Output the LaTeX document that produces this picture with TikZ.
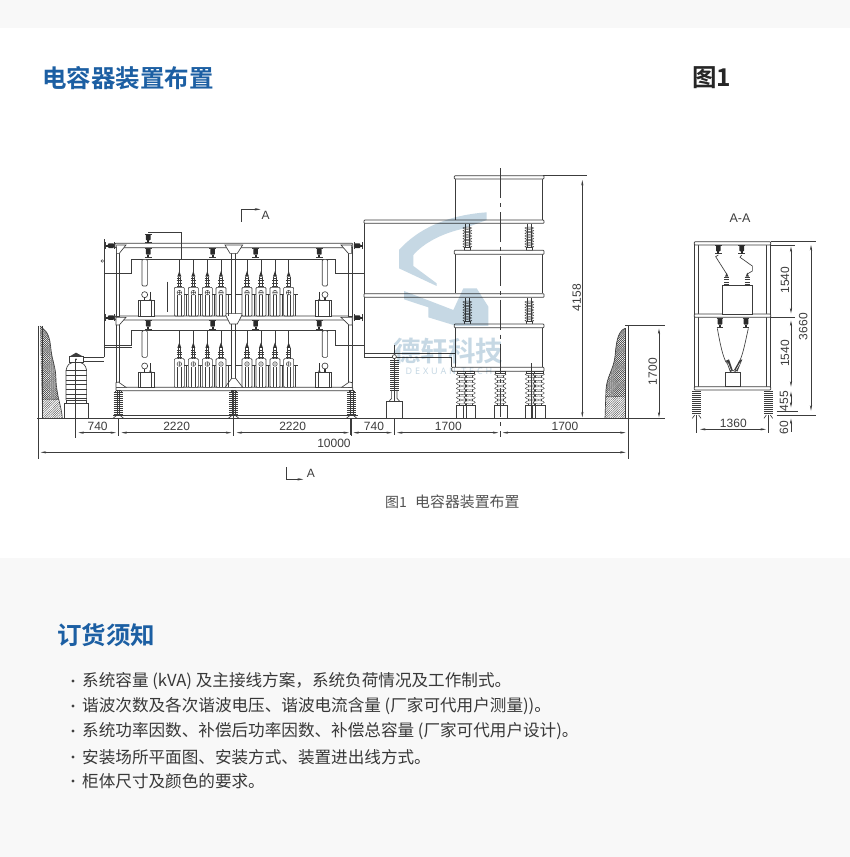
\documentclass[tikz,border=0pt]{standalone}
\usepackage{fontspec}
\setmainfont{Liberation Sans}
\newfontfamily\cjk{Noto Sans CJK SC}[BoldFont={Noto Sans CJK SC Bold}]
\newfontfamily\wmfont[LetterSpace=32]{Noto Sans}
\usetikzlibrary{arrows.meta,patterns.meta}
\definecolor{pagegray}{HTML}{F8F8F8}
\definecolor{titleblue}{HTML}{1C5FA3}
\definecolor{inkc}{HTML}{3C3C3C}
\definecolor{wmblue}{HTML}{C6D8E4}
\tikzset{
 ln/.style={draw=inkc,line width=.65bp},
 thin ln/.style={draw=inkc,line width=.4bp},
 dimn/.style={draw=inkc,line width=.5bp,{Stealth[length=5.5bp,width=2.2bp]}-{Stealth[length=5.5bp,width=2.2bp]}},
 ext/.style={draw=inkc,line width=.5bp},
 beam/.style={draw=inkc,line width=.7bp,fill=white,rounded corners=.8bp},
 dimtext/.style={font=\fontsize{12bp}{13bp}\selectfont,text=inkc,inner sep=0pt},
 listtext/.style={font=\cjk\fontsize{16.6bp}{18bp}\selectfont,text=black!78,inner sep=0pt,anchor=west},
 headtext/.style={font=\cjk\bfseries\fontsize{24.5bp}{26bp}\selectfont,inner sep=0pt,anchor=west},
 zA/.style={shift={(30,200)},x=.33333bp,y=-.33333bp},
 zB/.style={shift={(350,160)},x=.33333bp,y=-.33333bp},
 zC/.style={shift={(680,200)},x=.33333bp,y=-.33333bp},
 zD/.style={shift={(385,200)},x=.33333bp,y=-.33333bp},
 capunit/.pic={
  \draw[ln,fill=white,rounded corners=1bp] (-15,0) -- (-15,-86) -- (15,-86) -- (15,0) -- cycle;
  \draw[thin ln] (-5,-62)--(-5,0) (5,-62)--(5,0);
  \draw[thin ln] (15,-65)--(27,-65) (21,-65)--(21,0);
  \draw[thin ln] (0,-70) circle (7) (-7,-70)--(7,-70) (0,-77)--(0,-63);
  \draw[ln] (-8,-90)--(8,-90) (-8,-98)--(8,-98) (-8,-106)--(8,-106) (-6,-112)--(6,-112);
  \draw[thin ln] (-4,-86)--(-4,-118) (4,-86)--(4,-118);
  \fill[inkc!85!black] (0,-135)--(-6,-118)--(6,-118)--cycle;
  \draw[thin ln] (0,-130)--(0,-170);
 },
 postblack/.pic={
  \draw[ln] (-10,13)--(10,13) (-10,-13)--(10,-13);
  \fill[inkc!70!black,rounded corners=.8bp] (-7,-12) rectangle (7,6);
  \fill[inkc!70!black] (-3,6) rectangle (3,13);
 },
 ribdark/.pic={
  \foreach \yy in {0,6,...,66}{\draw[draw=inkc,line width=.7bp] (-14,-\yy-6)--(14,-\yy-6);}
  \draw[thin ln] (-4,-78)--(-4,0) (4,-78)--(4,0);
  \draw[ln] (-8,-78)--(8,-78);
 },
 ribwhite/.pic={
  \draw[thin ln] (-9,-100)--(-9,0) (9,-100)--(9,0);
  \foreach \yy in {8,22,...,92}{\draw[thin ln,fill=white] (0,-\yy) ellipse (17 and 5);}
  \draw[thin ln,fill=white] (-14,-100) rectangle (14,-94);
 },
 ribtop/.pic={
  \foreach \yy in {5,13,...,61}{\draw[line width=.45bp,draw=inkc,fill=white] (0,-\yy-5) ellipse (13 and 3);}
  \draw[thin ln] (-6,-78)--(-6,0) (6,-78)--(6,0);
  \draw[ln,fill=white] (-8,0) rectangle (8,-8);
 },
 reactor/.pic={
  \draw[ln,fill=white,rounded corners=1.2bp] (-8,-170) rectangle (8,-90);
  \draw[ln] (0,-64) circle (9);
  \draw[line width=1.4bp,draw=inkc!80!black] (0,-55)--(0,-46);
  \draw[line width=1.2bp,draw=inkc!80!black] (17,-72)--(17,-47);
  \fill[inkc] (13,-47)--(21,-47)--(17,-53)--cycle;
  \draw[ln,fill=white] (-19,-46) rectangle (28,0);
  \draw[thin ln] (-12,-46)--(-12,0) (21,-46)--(21,0);
 },
}
\begin{document}
\begin{tikzpicture}[x=1bp,y=-1bp]
\useasboundingbox (0,0) rectangle (850,857);
\fill[pagegray] (0,0) rectangle (850,857);
\fill[white] (0,28) rectangle (850,558);
%% headings
\node[headtext,text=titleblue] (title) at (42,78) {电容器装置布置};
\node[headtext,text=black!85] (figno) at (692,78) {图1};
\node[headtext,text=titleblue] (notice) at (57,635) {订货须知};
\node[font=\cjk\fontsize{14bp}{15bp}\selectfont,text=black!68,inner sep=0pt,anchor=west] (capno) at (385,502) {图1};
\node[font=\cjk\fontsize{14.9bp}{15bp}\selectfont,text=black!68,inner sep=0pt,anchor=west] (caption) at (415,502) {电容器装置布置};
\foreach \yy/\nm/\tx in {
 681/a/{系统容量 (kVA) 及主接线方案，系统负荷情况及工作制式。},
 706/b/{谐波次数及各次谐波电压、谐波电流含量 (厂家可代用户测量))。},
 731/c/{系统功率因数、补偿后功率因数、补偿总容量 (厂家可代用户设计)。},
 757/d/{安装场所平面图、安装方式、装置进出线方式。},
 781/e/{柜体尺寸及颜色的要求。}}{
 \fill[black!75] (73,\yy) circle (1.6);
 \node[listtext] (item\nm) at (82,\yy) {\tx};
}
%% ========= left part
\begin{scope}[zA]
 % wall
 \draw[ln] (25,378) -- (25,778);
 \begin{scope}
  \clip (30,378) -- (38,385) .. controls (55,395) and (60,420) .. (62,440) .. controls (65,480) and (78,500) .. (78,540) .. controls (80,590) and (95,620) .. (97,655) -- (37,655) -- cycle;
  \fill[pattern={Lines[angle=45,distance=1.5bp,line width=.35bp]},pattern color=inkc] (25,378) rectangle (100,600);
  \fill[pattern={Lines[angle=-45,distance=1.5bp,line width=.35bp]},pattern color=inkc] (25,378) rectangle (100,600);
  \fill[pattern={Lines[angle=45,distance=1.6bp,line width=.35bp]},pattern color=inkc] (25,600) rectangle (100,655);
 \end{scope}
 \draw[ln] (37,378)--(37,655);
 \draw[ln] (30,378) -- (38,385) .. controls (55,395) and (60,420) .. (62,440) .. controls (65,480) and (78,500) .. (78,540) .. controls (80,590) and (95,620) .. (97,655);
 % ground
 \draw[ln] (22,655) -- (1000,655);
 \draw[thin ln] (250,645) -- (985,645);
 % transformer
 \draw[ln,fill=white] (103,610) rectangle (175,655);
 \draw[ln,fill=white] (108,600) rectangle (170,610);
 \draw[ln,fill=white,rounded corners=2bp] (108,600) -- (108,505) -- (120,488) -- (158,488) -- (170,505) -- (170,600);
 \foreach \yy in {512,526,...,596}{\draw[ln] (108,\yy)--(170,\yy);}
 \draw[ln,fill=white] (118,488) rectangle (160,470);
 \fill[inkc] (138,458)--(118,470)--(160,470)--cycle;
 \fill[inkc] (138,478) circle (3);
 \draw[ln] (160,472)--(222,472) (160,485)--(222,485) (222,472)--(222,118);
 % frame
 \draw[beam] (255,130) rectangle (968,143);
 \draw[beam] (255,348) rectangle (968,360);
 \draw[beam] (258,562) rectangle (968,572);
 \draw[ln,fill=white] (258,143) rectangle (268,348);
 \draw[ln,fill=white] (258,360) rectangle (268,562);
 \draw[ln,fill=white] (955,143) rectangle (967,348);
 \draw[ln,fill=white] (955,360) rectangle (967,562);
 \draw[ln,fill=white] (605,143) rectangle (617,348);
 \draw[ln,fill=white] (605,360) rectangle (617,562);
 \draw[ln,fill=white] (260,135)--(288,135)--(268,160)--(260,160)--cycle;
 \draw[ln,fill=white] (933,135)--(965,135)--(965,160)--(955,160)--cycle;
 \draw[ln,fill=white] (258,352)--(288,352)--(268,375)--(258,375)--cycle;
 \draw[ln,fill=white] (933,352)--(967,352)--(967,375)--(957,375)--cycle;
 \draw[ln,fill=white] (585,135)--(638,135)--(622,160)--(600,160)--cycle;
 \draw[ln,fill=white] (585,341)--(638,341)--(622,372)--(600,372)--cycle;
 \draw[ln,fill=white] (585,562)--(638,562)--(617,535)--(605,535)--cycle;
 \draw[ln,fill=white] (258,562)--(288,562)--(265,546)--(258,548)--cycle;
 \draw[ln,fill=white] (935,562)--(967,562)--(967,548)--(958,546)--cycle;
 % buses
 \draw[ln] (222,220)--(305,220)--(305,178)--(915,178)--(915,220)--(1003,220);
 \draw[ln] (222,436)--(305,436)--(305,392)--(915,392)--(915,436)--(1003,436);
 \draw[ln] (222,443)--(305,443);
 \draw[thin ln] (217,183) circle (4);
 \draw[ln] (413,245)--(413,335);
 % top link
 \draw[ln] (355,97)--(455,97)--(455,178);
 \pic at (355,115) {postblack};
 % bus posts
 \foreach \xx in {355,548,677,868}{\pic at (\xx,158) {postblack}; \pic at (\xx,374) {postblack};}
 \foreach \yy in {137,353}{
  \pic[rotate=-90] at (240,\yy) {postblack};
  \pic[rotate=90] at (985,\yy) {postblack};
 }
 % capacitors
 \foreach \xx in {448,490,532,573,651,693,735,776}{
  \pic at (\xx,348) {capunit};
  \pic at (\xx,562) {capunit};
 }
 \draw[thin ln] (588,283)--(605,283) (617,283)--(636,283) (588,497)--(605,497) (617,497)--(636,497);
 % reactors
 \pic at (344,348) {reactor};
 \pic at (344,562) {reactor};
 \pic[xscale=-1] at (885,348) {reactor};
 \pic[xscale=-1] at (885,562) {reactor};
 % foot insulators
 \foreach \xx in {265,611,965}{
  \draw[ln] (\xx-8,572)--(\xx-8,578) (\xx+8,572)--(\xx+8,578);
  \pic at (\xx,648) {ribdark};
  \draw[ln] (\xx-16,655)--(\xx-6,647) (\xx+16,655)--(\xx+6,647);
 }
 % extensions and dimensions
 \draw[ext] (137,478)--(137,714);
 \draw[ext] (266,655)--(266,708);
 \draw[ext] (611,572)--(611,708);
 \draw[ext] (965,655)--(965,708);
 \draw[dimn] (145,698)--(258,698);
 \draw[dimn] (274,698)--(604,698);
 \draw[dimn] (620,698)--(957,698);
 \draw[dimn] (32,757)--(1787,757);
 \node[dimtext] (d740a) at (203,679) {740};
 \node[dimtext] (d2220a) at (440,679) {2220};
 \node[dimtext] (d2220b) at (788,679) {2220};
 \node[dimtext] (d10000) at (912,730) {10000};
 % section marks
 \draw[ext,-{Stealth[length=6bp,width=2.4bp]}] (635,65)--(635,28)--(692,28);
 \node[dimtext] (secA1) at (707,46) {A};
 \draw[ext,-{Stealth[length=6bp,width=2.4bp]}] (768,802)--(768,838)--(820,838);
 \node[dimtext] (secA2) at (843,820) {A};
\end{scope}
%% ========= middle / tower part
\begin{scope}[zB]
 \draw[ln] (0,775)--(945,775);
 % walls of the tower
 \draw[ln] (315,57)--(315,180) (578,57)--(578,180);
 \draw[ln] (315,283)--(315,400) (578,283)--(578,400);
 \draw[ln] (315,503)--(315,622) (578,503)--(578,622);
 \draw[ln] (42,180)--(42,592);
 \draw[ln] (0,340)--(42,340) (0,555)--(42,555);
 \draw[ln] (42,580)--(315,580) (42,592)--(305,592)--(305,622);
 \draw[ln] (315,580)--(315,622);
 % insulators
 \foreach \xx in {352,538}{\pic at (\xx,270) {ribtop}; \pic at (\xx,492) {ribtop};}
 % bars
 \draw[beam] (313,47) rectangle (582,57);
 \draw[beam] (42,180) rectangle (582,190);
 \draw[beam] (313,271) rectangle (582,283);
 \draw[beam] (42,401) rectangle (582,412);
 \draw[beam] (313,492) rectangle (582,503);
 \draw[beam] (305,622) rectangle (582,634);
 % lower insulators
 \foreach \xx in {336,359,451,543,566}{\pic at (\xx,735) {ribwhite};}
 \draw[ln,fill=white] (320,735) rectangle (377,775);
 \draw[ln] (340,735)--(340,775) (350,735)--(350,775);
 \draw[ln,fill=white] (433,735) rectangle (472,775);
 \draw[ln,fill=white] (527,735) rectangle (585,775);
 \draw[ln] (547,735)--(547,775) (556,735)--(556,775);
 \draw[ln] (543,610)--(543,775);
 % free post
 \draw[ln] (133,555)--(133,825);
 \draw[ln,fill=white] (133,590) circle (6);
 \foreach \yy in {600,606,...,690}{\draw[draw=inkc,line width=.75bp] (120,\yy)--(146,\yy);}
 \draw[ln] (125,690)--(125,715)--(116,725) (141,690)--(141,715)--(150,725);
 \draw[ln,fill=white] (110,725) rectangle (158,775);
 % centre line
 \draw[ext,dash pattern=on 30 off 5 on 4 off 5] (451,25)--(451,830);
 % wall
 \begin{scope}
  \clip (825,505) .. controls (800,515) and (798,560) .. (795,590) .. controls (790,630) and (770,650) .. (768,690) -- (765,775) -- (825,775) -- cycle;
  \fill[pattern={Lines[angle=45,distance=1.5bp,line width=.35bp]},pattern color=inkc] (760,500) rectangle (830,710);
  \fill[pattern={Lines[angle=-45,distance=1.5bp,line width=.35bp]},pattern color=inkc] (760,500) rectangle (830,710);
  \fill[pattern={Lines[angle=45,distance=1.6bp,line width=.35bp]},pattern color=inkc] (760,710) rectangle (830,775);
 \end{scope}
 \draw[ln] (825,505) .. controls (800,515) and (798,560) .. (795,590) .. controls (790,630) and (770,650) .. (768,690) -- (765,775);
 \draw[ln] (825,505)--(825,775);
 % dimensions
 \draw[ext] (835,497)--(835,897);
 \draw[ext] (825,497)--(945,497);
 \draw[ext] (578,47)--(712,47);
 \draw[ext] (133,775)--(133,825) (0,775)--(0,825);
 \draw[dimn] (697,60)--(697,772);
 \draw[dimn] (927,506)--(927,772);
 \draw[dimn] (10,818)--(126,818);
 \draw[dimn] (141,818)--(445,818);
 \draw[dimn] (458,818)--(827,818);
 \node[dimtext,rotate=90] (d4158) at (680,413) {4158};
 \node[dimtext,rotate=90] (d1700c) at (908,635) {1700};
 \node[dimtext] (d740b) at (72,798) {740};
 \node[dimtext] (d1700a) at (295,798) {1700};
 \node[dimtext] (d1700b) at (645,798) {1700};
\end{scope}
%% ========= A-A section
\begin{scope}[zC]
 \node[dimtext,font=\fontsize{12.5bp}{13bp}\selectfont] (secAA) at (180,55) {A-A};
 \draw[ln] (43,125)--(43,560) (55,125)--(55,560) (260,125)--(260,560) (272,125)--(272,560);
 \draw[beam] (43,125) rectangle (272,135);
 \draw[beam] (43,342) rectangle (272,352);
 \draw[beam] (43,560) rectangle (272,570);
 \draw[ext] (272,125)--(408,125) (272,135)--(345,135) (272,352)--(345,352);
 \draw[ext] (290,633)--(355,633) (290,647)--(408,647);
 % foot insulators
 \foreach \xx in {50,265}{
  \foreach \yy in {574,580,...,640}{\draw[draw=inkc,line width=.7bp] (\xx-13,\yy)--(\xx+13,\yy);}
  \draw[ln] (\xx-13,655)--(\xx-6,645) (\xx+13,655)--(\xx+6,645);
  \draw[ext] (\xx,645)--(\xx,700);
 }
 % upper capacitor
 \draw[ln,fill=white] (127,257) rectangle (217,342);
 \foreach \xx in {140,202}{
  \foreach \yy in {232,239,246,253}{\draw[ln] (\xx-8,\yy)--(\xx+8,\yy);}
  \fill[inkc] (\xx,218)--(\xx-5,230)--(\xx+5,230)--cycle;
 }
 \draw[ln] (115,165)--(107,170)--(140,222);
 \draw[ln] (185,165)--(180,172) .. controls (195,182) and (205,190) .. (217,198) -- (217,213) -- (202,222);
 \foreach \xx in {115,185}{\pic at (\xx,148) {postblack};}
 % lower capacitor
 \foreach \xx in {120,198}{\pic at (\xx,368) {postblack};}
 \draw[ln] (112,385) .. controls (120,430) and (128,470) .. (140,490);
 \draw[ln] (205,385) .. controls (195,430) and (188,470) .. (175,490);
 \draw[ln,fill=white] (137,516) rectangle (180,558);
 \fill[inkc] (138,482)--(147,478)--(158,510)--(150,515)--cycle;
 \fill[inkc] (178,482)--(187,478)--(172,515)--(162,510)--cycle;
 \draw[white,line width=.5bp] (143,488)--(152,510) (181,488)--(168,510);
 \draw[ln] (150,515) .. controls (155,510) and (162,510) .. (167,515);
 % dimensions
 \draw[dimn] (333,140)--(333,340);
 \draw[dimn] (333,362)--(333,560);
 \draw[dimn] (393,135)--(393,632);
 \draw[dimn] (333,575)--(333,622);
 \draw[ext,-{Stealth[length=5.5bp,width=2.2bp]}] (333,695)--(333,656);
 \draw[dimn] (60,688)--(258,688);
 \node[dimtext,rotate=90] (da1540) at (315,240) {1540};
 \node[dimtext,rotate=90] (db1540) at (315,460) {1540};
 \node[dimtext,rotate=90] (d3660) at (370,380) {3660};
 \node[dimtext,rotate=90] (d455) at (312,603) {455};
 \node[dimtext,rotate=90] (d60) at (312,683) {60};
 \node[dimtext] (d1360) at (160,671) {1360};
\end{scope}
%% watermark laid over the drawing
\begin{scope}[zD,blend mode=multiply]
 \fill[wmblue] (305,37) .. controls (190,45) and (100,85) .. (42,150) -- (42,205) -- (155,258) -- (155,250) -- (85,198) -- (85,165) .. controls (115,130) and (170,100) .. (235,86) -- (305,60) -- cycle;
 \fill[wmblue] (57,273) -- (205,330) -- (235,265) -- (275,265) -- (310,320) -- (310,378) -- (215,378) -- (130,352) -- (130,322) -- (57,298) -- cycle;
 \node[font=\cjk\bfseries\fontsize{27.5bp}{28bp}\selectfont,text=wmblue,inner sep=0pt] (wmcn) at (190,452) {德轩科技};
 \node[font=\wmfont\fontsize{9bp}{10bp}\selectfont,text=wmblue,inner sep=0pt] (wmen) at (192,513) {DEXUAN TECH};
\end{scope}
\end{tikzpicture}
\end{document}
